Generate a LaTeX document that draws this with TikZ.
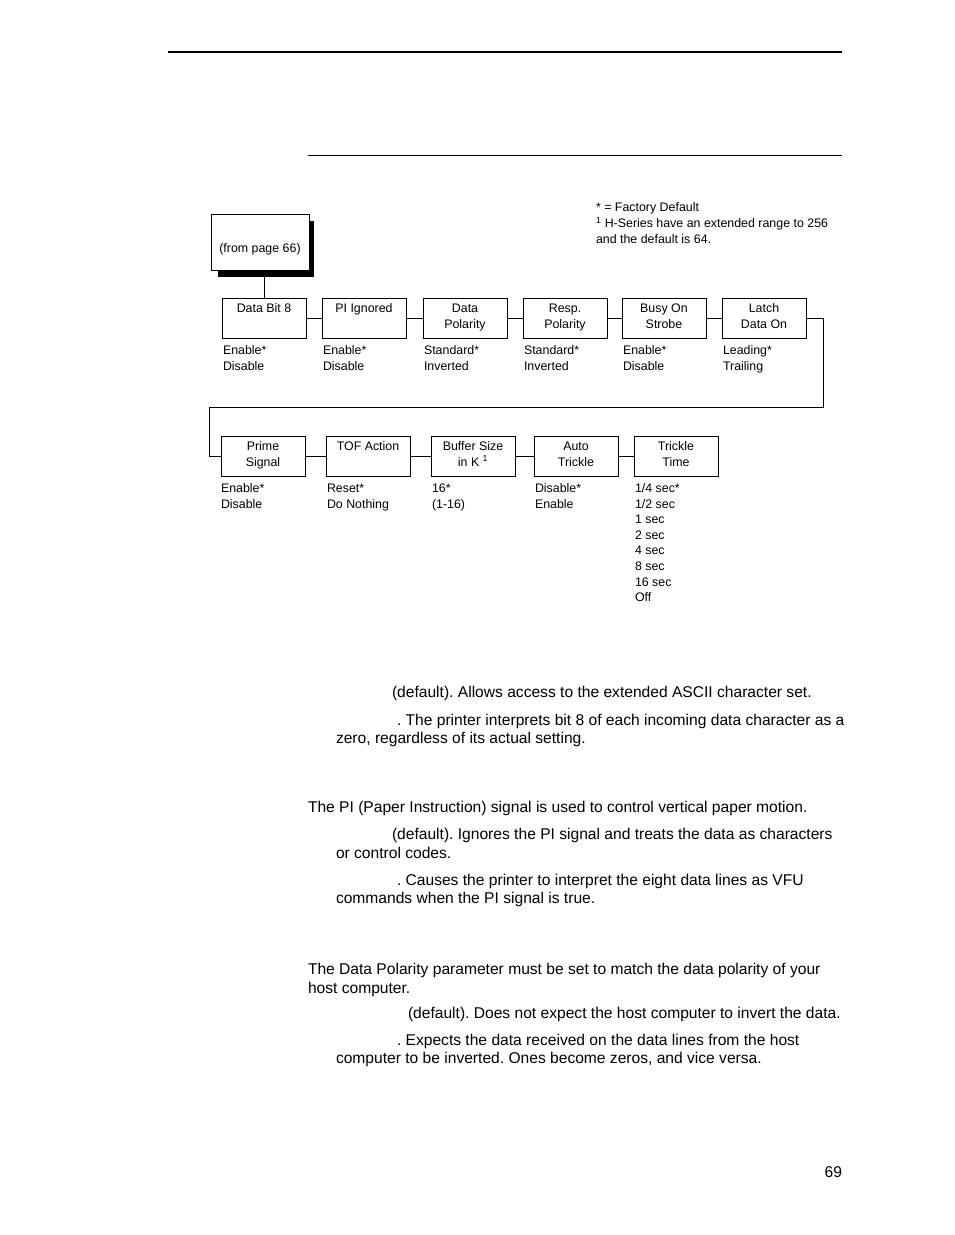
\documentclass[tikz,border=0pt]{standalone}
\usepackage{fontspec}
\setmainfont{Liberation Sans}
\frenchspacing
\begin{document}
\begin{tikzpicture}[x=1pt,y=-1pt,
  every node/.style={inner sep=0pt, outer sep=0pt},
  small/.style={font=\fontsize{12.4}{15.6}\selectfont},
  para/.style={font=\fontsize{15.6}{18.7}\selectfont, anchor=base west},
  lbl/.style={small, anchor=base west},
  menubox/.style={draw, line width=1pt, small, anchor=north west},
  conn/.style={line width=1pt}]
\newcommand{\bxt}[1]{\parbox[t][40pt][t]{84pt}{\centering\rule{0pt}{14.5pt}#1}}
\newcommand{\opts}[1]{\begin{tabular}[t]{@{}l@{}}#1\end{tabular}}
\useasboundingbox (0,0) rectangle (954,1235);
% rules
\draw[line width=2pt] (168,52) -- (842,52);
\draw[line width=1pt] (308,155) -- (842,155);
% footnote
\node[lbl] (fn1) at (596,211.5) {* = Factory Default};
\node[lbl] (fn2) at (596,227.5) {\textsuperscript{1} H-Series have an extended range to 256};
\node[lbl] (fn3) at (596,243.5) {and the default is 64.};
% from page box with shadow
\fill (218,221) rectangle (314,277);
\node[draw, fill=white, line width=1pt, anchor=north west, minimum width=98pt, minimum height=56pt] (from) at (211,214) {};
\node[small, anchor=base] (fromt) at (260,252.5) {(from page 66)};
% row 1
\node[menubox] (b1) at (222,298) {\bxt{Data Bit 8}};
\node[menubox] (b2) at (322,298) {\bxt{PI Ignored}};
\node[menubox] (b3) at (423,298) {\bxt{Data\\Polarity}};
\node[menubox] (b4) at (523,298) {\bxt{Resp.\\Polarity}};
\node[menubox] (b5) at (622,298) {\bxt{Busy On\\Strobe}};
\node[menubox] (b6) at (722,298) {\bxt{Latch\\Data On}};
\node[lbl] (l1) at (223,354.5) {\opts{Enable*\\Disable}};
\node[lbl] (l2) at (323,354.5) {\opts{Enable*\\Disable}};
\node[lbl] (l3) at (424,354.5) {\opts{Standard*\\Inverted}};
\node[lbl] (l4) at (524,354.5) {\opts{Standard*\\Inverted}};
\node[lbl] (l5) at (623,354.5) {\opts{Enable*\\Disable}};
\node[lbl] (l6) at (723,354.5) {\opts{Leading*\\Trailing}};
% row 2
\node[menubox] (c1) at (221,436) {\bxt{Prime\\Signal}};
\node[menubox] (c2) at (326,436) {\bxt{TOF Action}};
\node[menubox] (c3) at (431,436) {\bxt{Buffer Size\\in K \textsuperscript{1}}};
\node[menubox] (c4) at (534,436) {\bxt{Auto\\Trickle}};
\node[menubox] (c5) at (634,436) {\bxt{Trickle\\Time}};
\node[lbl] (m1) at (221,492.5) {\opts{Enable*\\Disable}};
\node[lbl] (m2) at (327,492.5) {\opts{Reset*\\Do Nothing}};
\node[lbl] (m3) at (432,492.5) {\opts{16*\\(1-16)}};
\node[lbl] (m4) at (535,492.5) {\opts{Disable*\\Enable}};
\node[lbl] (m5) at (635,492.5) {\opts{1/4 sec*\\1/2 sec\\1 sec\\2 sec\\4 sec\\8 sec\\16 sec\\Off}};
% connectors
\draw[conn] (from.south -| 264,0) -- (b1.north -| 264,0);
\draw[conn] (b1) -- (b2);
\draw[conn] (b2) -- (b3);
\draw[conn] (b3) -- (b4);
\draw[conn] (b4) -- (b5);
\draw[conn] (b5) -- (b6);
\coordinate (r1) at (823,318);
\coordinate (r2) at (823,407);
\coordinate (r3) at (209,407);
\coordinate (r4) at (209,456);
\draw[conn] (b6.east) -- (r1) -- (r2) -- (r3) -- (r4) -- (c1.west);
\draw[conn] (c1) -- (c2);
\draw[conn] (c2) -- (c3);
\draw[conn] (c3) -- (c4);
\draw[conn] (c4) -- (c5);
% paragraphs
\node[para] (p1) at (392,697) {(default). Allows access to the extended ASCII character set.};
\node[para] (p2a) at (397,725) {. The printer interprets bit 8 of each incoming data character as a};
\node[para] (p2b) at (336,743) {zero, regardless of its actual setting.};
\node[para] (p3) at (308,812) {The PI (Paper Instruction) signal is used to control vertical paper motion.};
\node[para] (p4a) at (392,839) {(default). Ignores the PI signal and treats the data as characters};
\node[para] (p4b) at (336,858) {or control codes.};
\node[para] (p5a) at (397,885) {. Causes the printer to interpret the eight data lines as VFU};
\node[para] (p5b) at (336,903) {commands when the PI signal is true.};
\node[para] (p6a) at (308,974) {The Data Polarity parameter must be set to match the data polarity of your};
\node[para] (p6b) at (308,993) {host computer.};
\node[para] (p7) at (408,1018) {(default). Does not expect the host computer to invert the data.};
\node[para] (p8a) at (397,1045) {. Expects the data received on the data lines from the host};
\node[para] (p8b) at (336,1063) {computer to be inverted. Ones become zeros, and vice versa.};
\node[para, anchor=base east] (pg) at (842,1177.5) {69};
\end{tikzpicture}
\end{document}
